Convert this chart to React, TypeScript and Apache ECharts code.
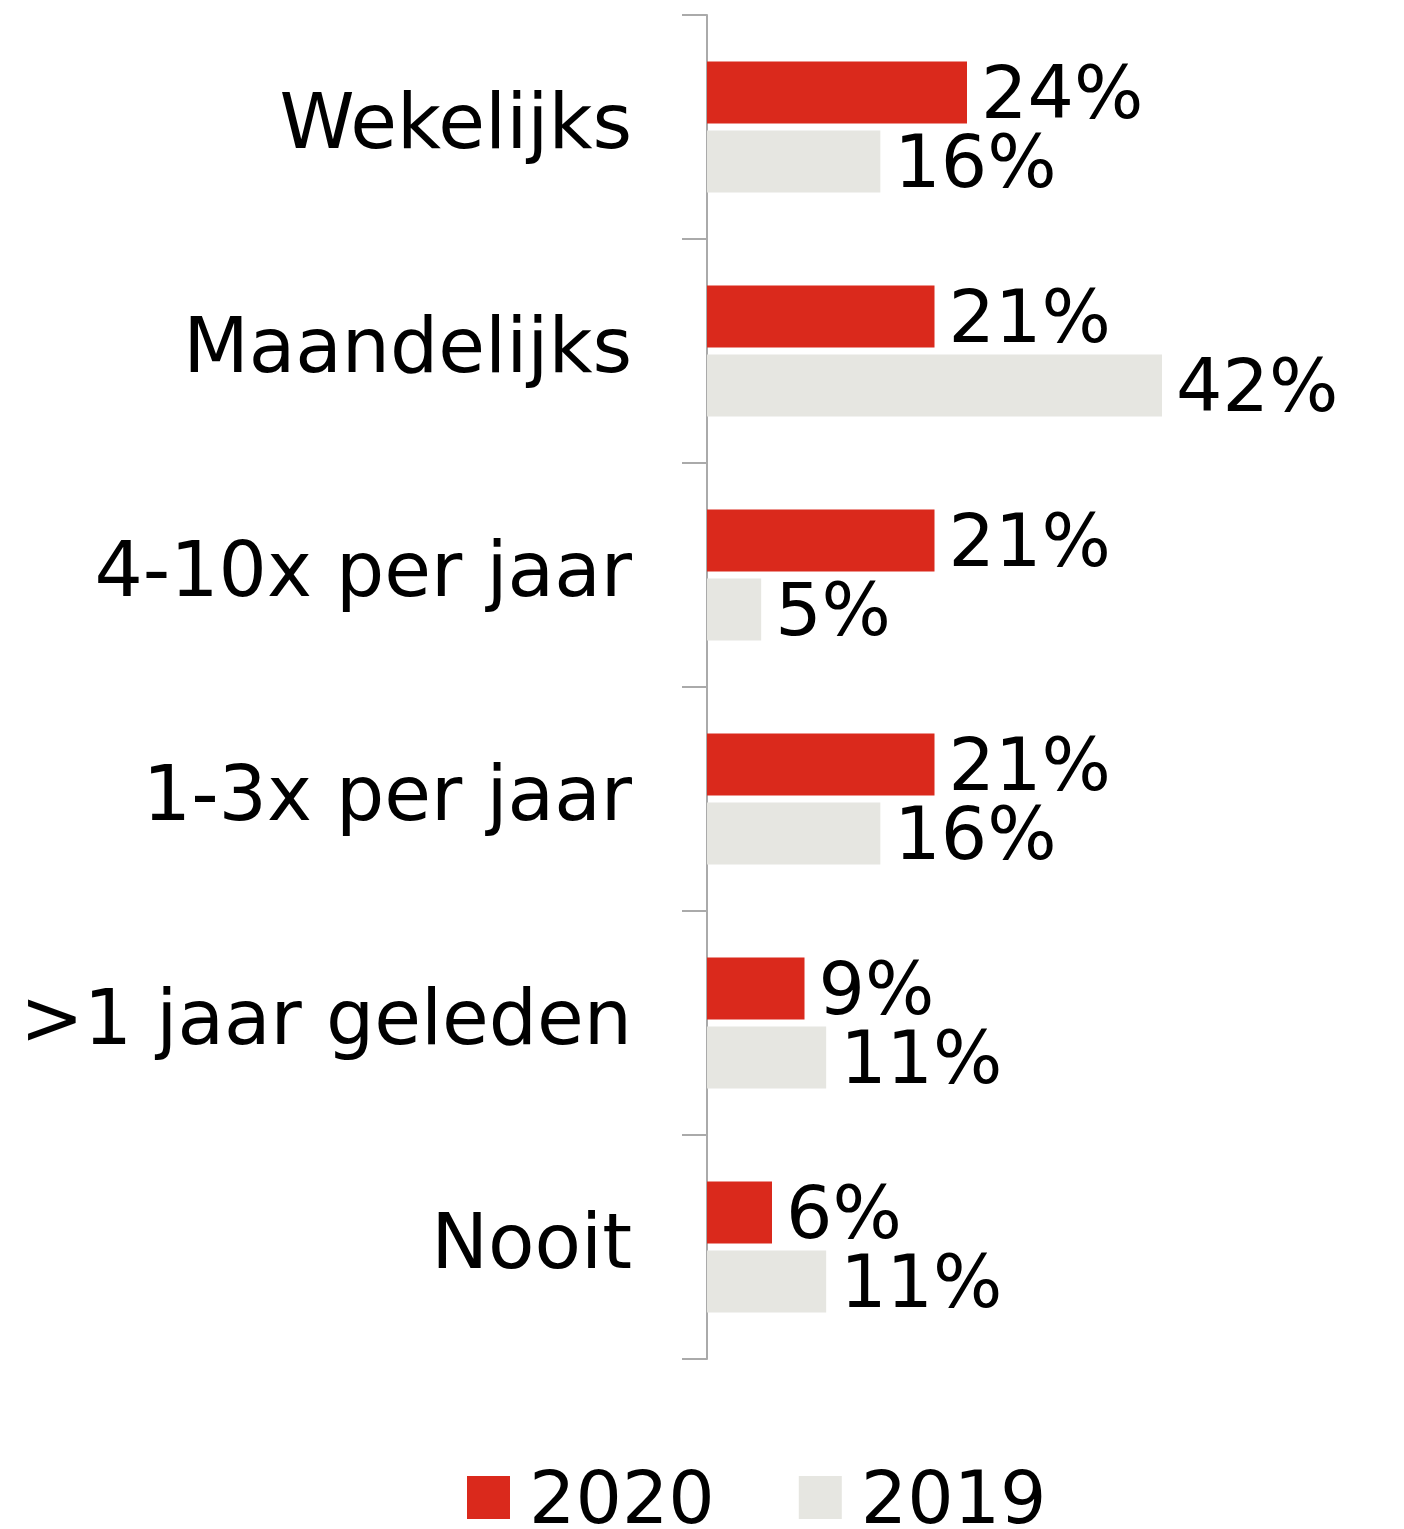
import React, { useEffect, useRef } from "react";
import * as echarts from "echarts";

const categories = ["Wekelijks", "Maandelijks", "4-10x per jaar", "1-3x per jaar", ">1 jaar geleden", "Nooit"];
const series2020 = [24, 21, 21, 21, 9, 6];
const series2019 = [16, 42, 5, 16, 11, 11];
const seriesNames = ["2020", "2019"];

const FONT = "DejaVu Sans";

export default function App() {
  const ref = useRef<HTMLDivElement>(null);
  useEffect(() => {
    const chart = echarts.init(ref.current!, null, { renderer: "svg" });
    const labelStyle = {
      show: true,
      position: "right",
      distance: 14,
      formatter: "{c}%",
      color: "#000",
      fontSize: 73,
      fontFamily: FONT,
    };
    chart.setOption({
      animation: false,
      grid: { left: 707, top: 15, bottom: 170, width: 650 },
      legend: {
        left: 462,
        top: 1456,
        itemWidth: 43,
        itemHeight: 43,
        itemGap: 84,
        icon: "rect",
        textStyle: { fontSize: 73, lineHeight: 43, fontFamily: FONT, color: "#000", padding: [0, 0, 0, 14] },
        data: seriesNames,
      },
      xAxis: {
        type: "value",
        min: 0,
        max: 60,
        show: false,
      },
      yAxis: {
        type: "category",
        inverse: true,
        data: categories,
        axisLine: { show: true, lineStyle: { color: "#AAAAAA", width: 2 } },
        axisTick: { show: true, length: 25, lineStyle: { color: "#AAAAAA", width: 2 } },
        axisLabel: {
          margin: 75,
          fontSize: 76,
          fontFamily: FONT,
          color: "#000",
          verticalAlign: "bottom",
          lineHeight: 12,
        },
      },
      series: [
        {
          name: seriesNames[0],
          type: "bar",
          data: series2020,
          barWidth: 62,
          barGap: "11%",
          itemStyle: { color: "#DA291C" },
          label: labelStyle,
        },
        {
          name: seriesNames[1],
          type: "bar",
          data: series2019,
          barWidth: 62,
          itemStyle: { color: "#E6E6E1" },
          label: labelStyle,
        },
      ],
    });
    return () => chart.dispose();
  }, []);
  return <div ref={ref} style={{ position: "absolute", left: 0, top: 0, width: 1404, height: 1529 }} />;
}
